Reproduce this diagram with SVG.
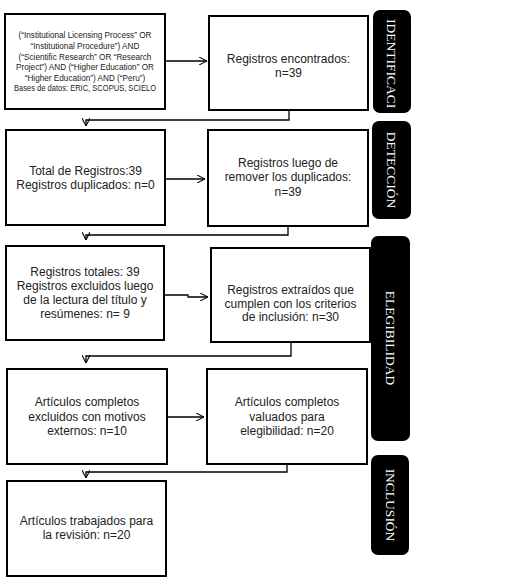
<svg xmlns="http://www.w3.org/2000/svg" width="505" height="579" viewBox="0 0 505 579">
<defs>
<style>
.box{fill:#fff;stroke:#000;stroke-width:2}
.t{font-family:"Liberation Sans",Arial,sans-serif;font-size:12px;fill:#222;text-anchor:middle}
.s{font-family:"Liberation Sans",Arial,sans-serif;font-size:8.2px;fill:#222;text-anchor:middle}
.lab{fill:#000}
.lt{font-family:"Liberation Serif","Times New Roman",serif;font-size:13.5px;fill:#fff}
.c{fill:none;stroke:#000;stroke-width:1.3}
</style>
<marker id="ah" viewBox="0 0 10 10" refX="10" refY="5" markerWidth="8" markerHeight="8" markerUnits="userSpaceOnUse" orient="auto">
<path d="M0,0 L10,5 L0,10" fill="none" stroke="#000" stroke-width="1.3"/>
</marker>
</defs>
<rect width="505" height="579" fill="#fff"/>

<g id="n1">
<rect class="box" x="5" y="14" width="160" height="95"/>
<text class="s"><tspan x="85" y="38">(“Institutional Licensing Process” OR</tspan><tspan x="85" y="49">“Institutional Procedure”) AND</tspan><tspan x="85" y="60">(“Scientific Research” OR “Research</tspan><tspan x="85" y="70">Project”) AND (“Higher Education” OR</tspan><tspan x="85" y="81">“Higher Education”) AND (“Peru”)</tspan></text>
<text class="s" x="85" y="91" textLength="142" lengthAdjust="spacingAndGlyphs">Bases de datos: ERIC, SCOPUS, SCIELO</text>
</g>
<g id="n2">
<rect class="box" x="209" y="16" width="159" height="94"/>
<text class="t"><tspan x="288.5" y="63">Registros encontrados:</tspan><tspan x="288.5" y="77">n=39</tspan></text>
</g>
<g id="n3">
<rect class="box" x="6" y="130" width="159" height="95"/>
<text class="t"><tspan x="85.5" y="175">Total de Registros:39</tspan><tspan x="85.5" y="189">Registros duplicados: n=0</tspan></text>
</g>
<g id="n4">
<rect class="box" x="208" y="130" width="160" height="96"/>
<text class="t"><tspan x="288" y="167">Registros luego de</tspan><tspan x="288" y="181">remover los duplicados:</tspan><tspan x="288" y="196">n=39</tspan></text>
</g>
<g id="n5">
<rect class="box" x="6" y="246" width="158" height="94"/>
<text class="t"><tspan x="85" y="276">Registros totales: 39</tspan><tspan x="85" y="290">Registros excluidos luego</tspan><tspan x="85" y="304">de la lectura del título y</tspan><tspan x="85" y="318">resúmenes: n= 9</tspan></text>
</g>
<g id="n6">
<rect class="box" x="211" y="248" width="159" height="94"/>
<text class="t"><tspan x="290.5" y="294">Registros extraídos que</tspan><tspan x="290.5" y="308">cumplen con los criterios</tspan><tspan x="290.5" y="321">de inclusión: n=30</tspan></text>
</g>
<g id="n7">
<rect class="box" x="7" y="369" width="160" height="95"/>
<text class="t"><tspan x="87" y="406">Artículos completos</tspan><tspan x="87" y="421">excluidos con motivos</tspan><tspan x="87" y="435">externos: n=10</tspan></text>
</g>
<g id="n8">
<rect class="box" x="207" y="369" width="160" height="95"/>
<text class="t"><tspan x="287" y="406">Artículos completos</tspan><tspan x="287" y="421">valuados para</tspan><tspan x="287" y="435">elegibilidad: n=20</tspan></text>
</g>
<g id="n9">
<rect class="box" x="7" y="481" width="159" height="95"/>
<text class="t"><tspan x="86.5" y="525">Artículos trabajados para</tspan><tspan x="86.5" y="539">la revisión: n=20</tspan></text>
</g>

<g id="l1">
<rect class="lab" x="373" y="10" width="38" height="103" rx="7"/>
<text class="lt" transform="translate(387,19) rotate(90)">IDENTIFICACI</text>
</g>
<g id="l2">
<rect class="lab" x="372" y="121" width="39" height="98" rx="7"/>
<text class="lt" transform="translate(387,170) rotate(90)" text-anchor="middle">DETECCIÓN</text>
</g>
<g id="l3">
<rect class="lab" x="371" y="236" width="39" height="205" rx="7"/>
<text class="lt" transform="translate(386,338) rotate(90)" text-anchor="middle">ELEGIBILIDAD</text>
</g>
<g id="l4">
<rect class="lab" x="371" y="455" width="38" height="100" rx="7"/>
<text class="lt" transform="translate(386,505) rotate(90)" text-anchor="middle">INCLUSIÓN</text>
</g>

<g id="connectors">
<path class="c" d="M165,61 H207" marker-end="url(#ah)"/>
<path class="c" d="M289,110 V120 H86 V126" marker-end="url(#ah)"/>
<path class="c" d="M165,179 H205" marker-end="url(#ah)"/>
<path class="c" d="M288,226 V235 H86 V240" marker-end="url(#ah)"/>
<path class="c" d="M164,295 H188 V297 H208" marker-end="url(#ah)"/>
<path class="c" d="M291,342 V356 H86 V363" marker-end="url(#ah)"/>
<path class="c" d="M167,417 H204" marker-end="url(#ah)"/>
<path class="c" d="M287,464 V472 H86 V478" marker-end="url(#ah)"/>
</g>
</svg>
